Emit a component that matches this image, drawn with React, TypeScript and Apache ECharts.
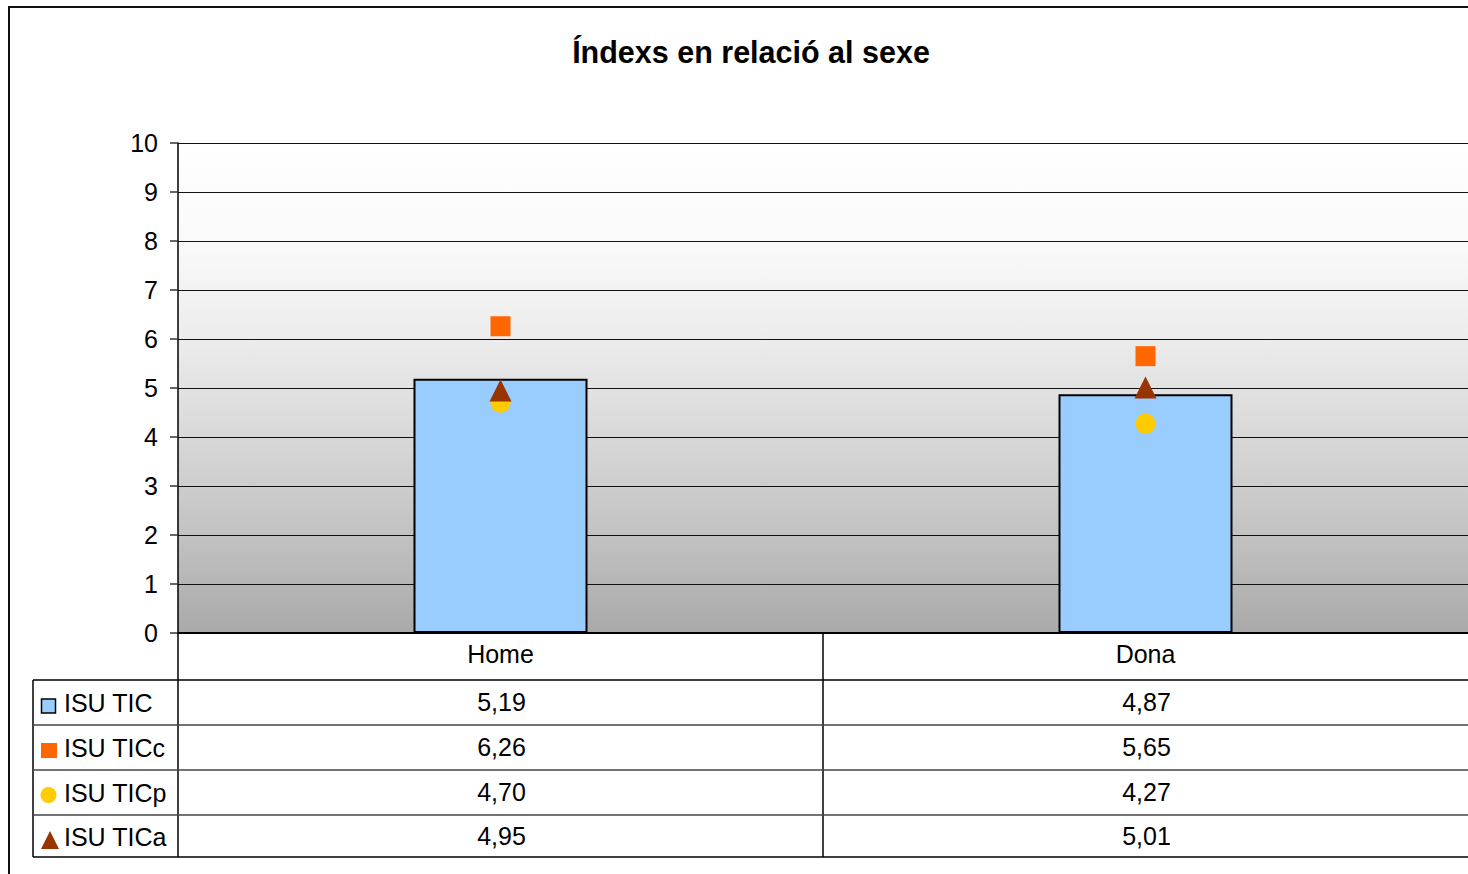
import React, { useEffect, useRef } from 'react';
import * as echarts from 'echarts';

const categories = ['Home', 'Dona'];
const seriesNames = ['ISU TIC', 'ISU TICc', 'ISU TICp', 'ISU TICa'];
const isuTic = [5.19, 4.87];
const isuTicc = [6.26, 5.65];
const isuTicp = [4.7, 4.27];
const isuTica = [4.95, 5.01];
const yMin = 0;
const yMax = 10;
const yStep = 1;

const FONT = '"Liberation Sans", Arial, Helvetica, sans-serif';
const fmt = (v: number) => v.toFixed(2).replace('.', ',');

export default function App() {
  const ref = useRef<HTMLDivElement>(null);

  useEffect(() => {
    const chart = echarts.init(ref.current!, null, { renderer: 'svg' });
    const W = 1468;
    const H = 874;
    const gridLeft = 178;
    const gridTop = 143;
    const gridBottomY = 633;
    const tableLeft = 33;
    const rowLines = [680, 725, 770, 815, 857];
    const rowCenters = [703, 748, 793, 837];
    const allSeries = [isuTic, isuTicc, isuTicp, isuTica];

    chart.setOption({
      animation: false,
      backgroundColor: '#ffffff',
      textStyle: { fontFamily: FONT },
      title: {
        text: 'Índexs en relació al sexe',
        left: 746,
        top: 31,
        textAlign: 'center',
        textStyle: { fontFamily: FONT, fontSize: 30.5, fontWeight: 'bold', color: '#000' },
      },
      legend: { show: false },
      grid: {
        left: gridLeft,
        right: 0,
        top: gridTop,
        bottom: H - gridBottomY,
        show: true,
        borderWidth: 0,
        backgroundColor: new echarts.graphic.LinearGradient(0, 0, 0, 1, [
          { offset: 0, color: '#ffffff' },
          { offset: 0.2, color: '#fafafa' },
          { offset: 0.4, color: '#ececec' },
          { offset: 0.6, color: '#d8d8d8' },
          { offset: 0.8, color: '#c2c2c2' },
          { offset: 1, color: '#a9a9a9' },
        ]),
      },
      xAxis: {
        type: 'category',
        data: categories,
        axisLine: { show: true, lineStyle: { color: '#000', width: 2 } },
        axisTick: { show: false },
        splitLine: { show: false },
        axisLabel: { color: '#000', fontSize: 25, fontFamily: FONT, margin: 8 },
      },
      yAxis: {
        type: 'value',
        min: yMin,
        max: yMax,
        interval: yStep,
        axisLine: { show: true, lineStyle: { color: '#000', width: 1.5 } },
        axisTick: { show: true, length: 8, lineStyle: { color: '#333', width: 1.5 } },
        axisLabel: { color: '#000', fontSize: 25, fontFamily: FONT, margin: 20 },
        splitLine: { show: true, lineStyle: { color: '#111', width: 1 } },
      },
      series: [
        {
          name: seriesNames[0],
          type: 'bar',
          data: isuTic,
          barWidth: 174,
          itemStyle: { color: '#99ccff', borderColor: '#000', borderWidth: 2 },
          z: 2,
        },
        {
          name: seriesNames[1],
          type: 'scatter',
          data: isuTicc,
          symbol: 'rect',
          symbolSize: 20,
          itemStyle: { color: '#ff6600', opacity: 1 },
          z: 3,
        },
        {
          name: seriesNames[2],
          type: 'scatter',
          data: isuTicp,
          symbol: 'circle',
          symbolSize: 20,
          itemStyle: { color: '#ffcc00', opacity: 1 },
          z: 4,
        },
        {
          name: seriesNames[3],
          type: 'scatter',
          data: isuTica,
          symbol: 'triangle',
          symbolSize: 22,
          itemStyle: { color: '#993300', opacity: 1 },
          z: 5,
        },
      ],
    });

    const xs = categories.map((c) => chart.convertToPixel({ xAxisIndex: 0 }, c) as number);
    const boundary = (xs[0] + xs[1]) / 2;

    const elements: any[] = [];
    const line = (x1: number, y1: number, x2: number, y2: number, color = '#000', w = 1.5) =>
      elements.push({
        type: 'line',
        silent: true,
        shape: { x1, y1, x2, y2 },
        style: { stroke: color, lineWidth: w },
        z: 10,
      });

    // outer border (top and left)
    line(8, 7, W, 7, '#111', 2);
    line(9, 6, 9, H, '#111', 2);

    // table lines
    line(gridLeft, gridBottomY, gridLeft, rowLines[rowLines.length - 1], '#000', 1.5);
    line(boundary, gridBottomY, boundary, rowLines[rowLines.length - 1], '#000', 1.5);
    line(tableLeft, rowLines[0], tableLeft, rowLines[rowLines.length - 1], '#000', 1.5);
    rowLines.forEach((y, i) => {
      const isEdge = i === 0 || i === rowLines.length - 1;
      line(tableLeft, y, W, y, isEdge ? '#000' : '#444', 1.5);
    });

    // legend keys
    elements.push({
      type: 'rect',
      shape: { x: 41.5, y: 699, width: 14, height: 14 },
      style: { fill: '#99ccff', stroke: '#000', lineWidth: 1.5 },
      z: 10,
    });
    elements.push({
      type: 'rect',
      shape: { x: 41, y: 743, width: 16, height: 15 },
      style: { fill: '#ff6600' },
      z: 10,
    });
    elements.push({
      type: 'circle',
      shape: { cx: 48.5, cy: 795, r: 8 },
      style: { fill: '#ffcc00' },
      z: 10,
    });
    elements.push({
      type: 'polygon',
      shape: { points: [[41, 849], [50, 831], [59, 849]] },
      style: { fill: '#993300' },
      z: 10,
    });

    // legend texts
    seriesNames.forEach((n, i) => {
      elements.push({
        type: 'text',
        x: 64,
        y: rowCenters[i],
        style: {
          text: n,
          fill: '#000',
          font: `25px ${FONT}`,
          textAlign: 'left',
          textVerticalAlign: 'middle',
        },
        z: 10,
      });
    });

    // values
    allSeries.forEach((arr, i) => {
      arr.forEach((v, j) => {
        elements.push({
          type: 'text',
          x: xs[j] + 1,
          y: rowCenters[i] - 1,
          style: {
            text: fmt(v),
            fill: '#000',
            font: `25px ${FONT}`,
            textAlign: 'center',
            textVerticalAlign: 'middle',
          },
          z: 10,
        });
      });
    });

    chart.setOption({ graphic: { elements } });

    return () => chart.dispose();
  }, []);

  return (
    <div
      ref={ref}
      style={{ position: 'absolute', left: 0, top: 0, width: 1468, height: 874, background: '#fff' }}
    />
  );
}
